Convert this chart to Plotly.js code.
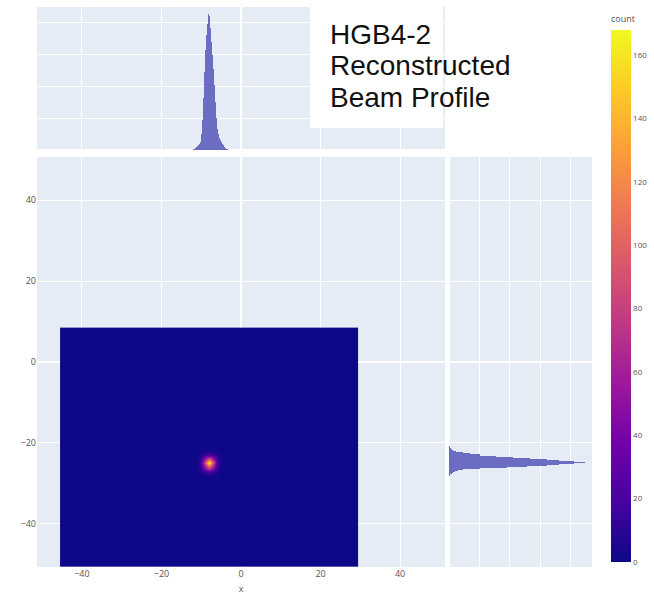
<!DOCTYPE html>
<html>
<head>
<meta charset="utf-8">
<script src="https://cdn.plot.ly/plotly-3.0.1.min.js"></script>
<style>html,body{margin:0;padding:0;background:#fff;}#chart{width:654px;height:595px;}</style>
</head>
<body>
<div id="chart"></div>
<script>
// ---- Data ----
// 2D histogram grid (bin centres start / count, bin width)
const heatXStart = -45, heatXCount = 75;
const heatYStart = -51, heatYCount = 60;
const heatBinWidth = 1;
// beam spot: counts around the spot centre (rows: y from -3 to +3, cols: x from -3 to +3)
const spotCenterX = -8, spotCenterY = -25;
const spotCounts = [
  [0, 1, 2, 3, 2, 1, 0],
  [1, 5, 14, 20, 14, 5, 1],
  [2, 14, 55, 92, 55, 14, 2],
  [3, 20, 92, 165, 92, 20, 3],
  [2, 14, 55, 92, 55, 14, 2],
  [1, 5, 14, 20, 14, 5, 1],
  [0, 1, 2, 3, 2, 1, 0]
];
// marginal histogram of x (top)
const topHistX = [-12.0, -11.75, -11.5, -11.25, -11.0, -10.75, -10.5, -10.25, -10.0, -9.75, -9.5, -9.25, -9.0, -8.75, -8.5, -8.25, -8.0, -7.75, -7.5, -7.25, -7.0, -6.75, -6.5, -6.25, -6.0, -5.75, -5.5, -5.25, -5.0, -4.75, -4.5, -4.25, -4.0, -3.75, -3.5];
const topHistCount = [31, 47, 63, 94, 125, 156, 188, 250, 500, 938, 1625, 2438, 3125, 3594, 3938, 4250, 4188, 3813, 3375, 2969, 2531, 2031, 1500, 1000, 656, 500, 375, 313, 250, 203, 156, 109, 78, 47, 25];
// marginal histogram of y (right)
const rightHistY = [-28.0, -27.75, -27.5, -27.25, -27.0, -26.75, -26.5, -26.25, -26.0, -25.75, -25.5, -25.25, -25.0, -24.75, -24.5, -24.25, -24.0, -23.75, -23.5, -23.25, -23.0, -22.75, -22.5, -22.25, -22.0, -21.75, -21.5, -21.25, -21.0];
const rightHistCount = [23, 49, 82, 131, 197, 295, 459, 1017, 1902, 2558, 3214, 3608, 4100, 4460, 4100, 3608, 3214, 2657, 2099, 1542, 1017, 689, 459, 230, 131, 98, 66, 39, 20];
// axis ticks
const mainTicks = [-40, -20, 0, 20, 40];
const colorTicks = [0, 20, 40, 60, 80, 100, 120, 140, 160];
const titleLines = ["HGB4-2", "Reconstructed", "Beam Profile"];

// ---- build z grid ----
const z = [];
for (let j = 0; j < heatYCount; j++) {
  const row = [];
  for (let i = 0; i < heatXCount; i++) row.push(0);
  z.push(row);
}
const half = (spotCounts.length - 1) / 2;
const ci = Math.round((spotCenterX - heatXStart) / heatBinWidth);
const cj = Math.round((spotCenterY - heatYStart) / heatBinWidth);
spotCounts.forEach((row, r) => row.forEach((v, c) => {
  z[cj + r - half][ci + c - half] = v;
}));

const plasma = [
  [0, '#0d0887'], [0.111, '#46039f'], [0.222, '#7201a8'], [0.333, '#9c179e'],
  [0.444, '#bd3786'], [0.556, '#d8576b'], [0.667, '#ed7953'], [0.778, '#fb9f3a'],
  [0.889, '#fdca26'], [1, '#f0f921']
];

const histColor = 'rgb(106,109,194)';

const traces = [
  {
    type: 'heatmap', z: z,
    x0: heatXStart, dx: heatBinWidth, y0: heatYStart, dy: heatBinWidth,
    xaxis: 'x', yaxis: 'y',
    colorscale: plasma, zmin: 0, zmax: 168, zsmooth: 'best',
    colorbar: {
      title: {text: 'count', side: 'top', font: {size: 9, color: '#555'}},
      thickness: 20, lenmode: 'pixels', len: 550,
      x: (611 - 37) / 555, xanchor: 'left', xpad: 0,
      y: (567 - 562) / 560, yanchor: 'bottom', ypad: 0,
      tickvals: colorTicks, tickfont: {size: 8, color: '#555'},
      outlinewidth: 0
    },
    hoverinfo: 'skip'
  },
  {
    type: 'bar', x: topHistX, y: topHistCount, xaxis: 'x2', yaxis: 'y2',
    width: 0.25, marker: {color: histColor, line: {width: 0}}, showlegend: false
  },
  {
    type: 'bar', orientation: 'h', y: rightHistY, x: rightHistCount, xaxis: 'x3', yaxis: 'y3',
    width: 0.25, marker: {color: histColor, line: {width: 0}}, showlegend: false
  }
];

const gridCommon = {gridcolor: '#fff', zerolinecolor: '#fff', zerolinewidth: 2, showline: false, ticks: ''};

const px = v => (v - 37) / 555;
const py = v => (567 - v) / 560;

const annotations = [
  {text: titleLines[0], cy: 34},
  {text: titleLines[1], cy: 66},
  {text: titleLines[2], cy: 98}
].map(l => ({
  text: l.text, xref: 'paper', yref: 'paper', x: px(328), y: py(l.cy),
  xanchor: 'left', yanchor: 'middle', showarrow: false,
  font: {family: 'Liberation Sans, Arial, sans-serif', size: 28, color: '#111'}
}));

const layout = {
  width: 654, height: 595,
  margin: {l: 37, r: 62, t: 7, b: 28},
  paper_bgcolor: '#fff', plot_bgcolor: '#E5ECF6',
  showlegend: false, bargap: 0,
  font: {family: '"Open Sans", verdana, arial, sans-serif', size: 9, color: '#555'},
  xaxis: Object.assign({}, gridCommon, {
    domain: [0, 408 / 555], range: [-51.3, 51.3], tickvals: mainTicks,
    anchor: 'y', automargin: false,
    title: {text: 'x', standoff: 6, font: {size: 9, color: '#555'}}
  }),
  yaxis: Object.assign({}, gridCommon, {
    domain: [0, 410 / 560], range: [-50.7, 50.7], tickvals: mainTicks,
    anchor: 'x', automargin: false
  }),
  xaxis2: Object.assign({}, gridCommon, {
    domain: [0, 408 / 555], matches: 'x', anchor: 'y2', showticklabels: false, tickvals: mainTicks
  }),
  yaxis2: Object.assign({}, gridCommon, {
    domain: [py(150), 1], range: [0, 4470], dtick: 1000, anchor: 'x2', showticklabels: false
  }),
  xaxis3: Object.assign({}, gridCommon, {
    domain: [px(449), 1], range: [0, 4690], dtick: 1000, anchor: 'y3', showticklabels: false
  }),
  yaxis3: Object.assign({}, gridCommon, {
    domain: [0, 410 / 560], matches: 'y', anchor: 'x3', showticklabels: false, tickvals: mainTicks
  }),
  shapes: [{
    type: 'rect', xref: 'paper', yref: 'paper', layer: 'above',
    x0: px(310), x1: px(443), y0: py(128), y1: py(0),
    fillcolor: '#fff', line: {width: 0}
  }],
  annotations: annotations
};

Plotly.newPlot('chart', traces, layout, {displayModeBar: false, staticPlot: true});
</script>
</body>
</html>
